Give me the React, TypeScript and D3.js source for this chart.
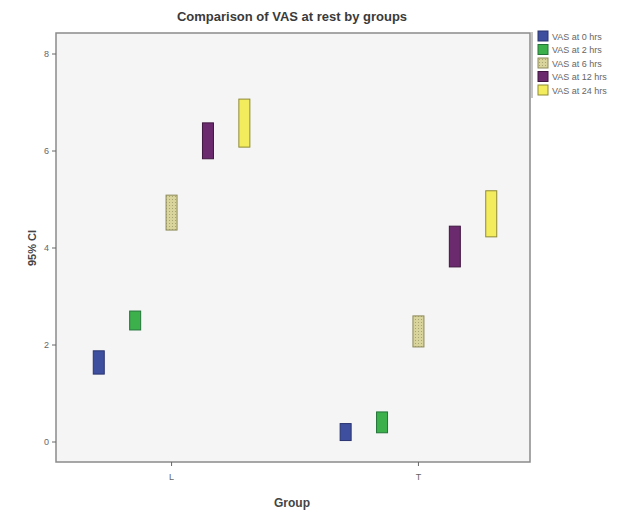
import React from 'react';
import * as d3 from 'd3';

// groups and series shown in the chart
const groups = ['L', 'T'];
const series = ['VAS at 0 hrs', 'VAS at 2 hrs', 'VAS at 6 hrs', 'VAS at 12 hrs', 'VAS at 24 hrs'];
const seriesColors = ['#3d4f9e', '#3cb04b', '#d9d49c', '#6c2a6e', '#f3ec5c'];
const seriesStroke = ['#2a3470', '#24743a', '#8d8a5a', '#3f1640', '#8f8a35'];

// 95% CI lower / upper per group (rows) and series (columns)
const ciLower = [
  [1.4, 2.31, 4.37, 5.84, 6.08],
  [0.03, 0.19, 1.96, 3.61, 4.23],
];
const ciUpper = [
  [1.88, 2.7, 5.09, 6.58, 7.07],
  [0.38, 0.62, 2.6, 4.45, 5.18],
];
const yTicks = [0, 2, 4, 6, 8];

const W = 631;
const H = 513;
const plot = { left: 56, right: 530, top: 33, bottom: 462 };
const font = 'Liberation Sans, Arial, sans-serif';

export default function App() {
  const y = d3.scaleLinear().domain([0, 8]).range([442, 54]);
  const x = d3.scalePoint<string>().domain(groups).range([plot.left + 2, plot.right + 2]).padding(0.46);
  const inner = d3.scaleBand<string>().domain(series).range([-91, 91]);
  const boxW = 11;

  return (
    <svg width={W} height={H} style={{ position: 'absolute', left: 0, top: 0 }}>
      <defs>
        <pattern id="dots" width="3" height="3" patternUnits="userSpaceOnUse">
          <rect width="3" height="3" fill="#d9d49c" />
          <rect x="1" y="1" width="1" height="1" fill="#a9a572" />
        </pattern>
      </defs>
      <rect x={0} y={0} width={W} height={H} fill="#ffffff" />
      <rect x={plot.left} y={plot.top} width={plot.right - plot.left} height={plot.bottom - plot.top}
        fill="#f5f5f5" stroke="#8a8a8a" strokeWidth={1.5} />

      <text x={292} y={21} textAnchor="middle" fontFamily={font} fontWeight="bold" fontSize={13} fill="#3a3a3a">
        Comparison of VAS at rest by groups
      </text>

      {/* y axis */}
      {yTicks.map(t => (
        <g key={t}>
          <line x1={plot.left - 4} x2={plot.left} y1={y(t)} y2={y(t)} stroke="#666" />
          <text x={plot.left - 7} y={y(t) + 3} textAnchor="end" fontFamily={font} fontSize={9} fill="#666">{t}</text>
        </g>
      ))}
      <text transform={`translate(36,${y(4)}) rotate(-90)`} textAnchor="middle" fontFamily={font}
        fontWeight="bold" fontSize={11} fill="#444">95% CI</text>

      {/* x axis */}
      {groups.map(g => (
        <g key={g}>
          <line x1={x(g)} x2={x(g)} y1={plot.bottom} y2={plot.bottom + 4} stroke="#666" />
          <text x={x(g)} y={plot.bottom + 18} textAnchor="middle" fontFamily={font} fontSize={9} fill="#666">{g}</text>
        </g>
      ))}
      <text x={292} y={507} textAnchor="middle" fontFamily={font} fontWeight="bold" fontSize={12} fill="#444">Group</text>

      {/* CI boxes */}
      {groups.map((g, gi) =>
        series.map((s, si) => {
          const cx = (x(g) as number) + (inner(s) as number) + inner.bandwidth() / 2;
          const top = y(ciUpper[gi][si]);
          const bot = y(ciLower[gi][si]);
          return (
            <rect key={g + s} x={cx - boxW / 2} y={top} width={boxW} height={bot - top}
              fill={si === 2 ? 'url(#dots)' : seriesColors[si]} stroke={seriesStroke[si]} strokeWidth={1} />
          );
        })
      )}

      {/* legend */}
      <line x1={532} x2={532} y1={32} y2={98} stroke="#8a8a8a" />
      {series.map((s, i) => (
        <g key={s} transform={`translate(538,${31 + i * 13.5})`}>
          <rect x={0} y={0} width={10} height={10} fill={i === 2 ? 'url(#dots)' : seriesColors[i]} stroke={seriesStroke[i]} />
          <text x={14} y={8.5} fontFamily={font} fontSize={9} fill="#666">{s}</text>
        </g>
      ))}
    </svg>
  );
}
